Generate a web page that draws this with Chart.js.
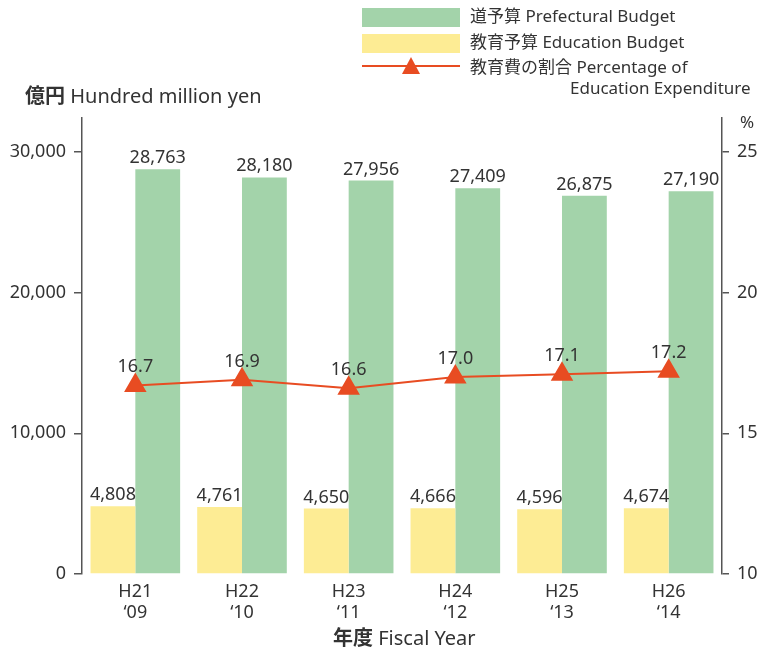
<!DOCTYPE html>
<html><head><meta charset="utf-8">
<script src="https://cdn.jsdelivr.net/npm/chart.js@4"></script>
<style>
html,body{margin:0;padding:0;background:#fff;}
body{width:771px;height:650px;position:relative;overflow:hidden;font-family:'Noto Sans','Noto Sans CJK JP',sans-serif;color:#333;}
#wrap{position:absolute;left:0;top:0;width:771px;height:650px;}
.t{position:absolute;white-space:nowrap;font-size:17px;color:#333;line-height:1;}
.lg{position:absolute;}
b{font-family:'Noto Sans CJK JP',sans-serif;font-weight:bold;}
</style></head>
<body>
<div id="wrap"><canvas id="c" width="771" height="650"></canvas></div>
<div class="lg" style="left:362px;top:8px;width:98px;height:19px;background:#a3d3aa"></div>
<div class="t" style="left:470px;top:7px;font-size:17px">道予算 Prefectural Budget</div>
<div class="lg" style="left:362px;top:34px;width:98px;height:19px;background:#fdec94"></div>
<div class="t" style="left:470px;top:33px;font-size:17px">教育予算 Education Budget</div>
<div class="lg" style="left:362px;top:65px;width:98px;height:2px;background:#e84c22"></div>
<div class="lg" style="left:402px;top:57px;width:0;height:0;border-left:9px solid transparent;border-right:9px solid transparent;border-bottom:17px solid #e84c22"></div>
<div class="t" style="left:470px;top:58px;font-size:17px">教育費の割合 Percentage of</div>
<div class="t" style="left:570px;top:79px;font-size:17px">Education Expenditure</div>
<div class="t" style="left:25px;top:85px;font-size:20px"><b>億円</b> Hundred million yen</div>
<div class="t" style="left:740px;top:113px;font-size:17px">%</div>
<div class="t" style="left:333px;top:627px;font-size:20px"><b>年度</b> Fiscal Year</div>
<script>
const categories = [['H21','‘09'],['H22','‘10'],['H23','‘11'],['H24','‘12'],['H25','‘13'],['H26','‘14']];
const educationBudget = [4808, 4761, 4650, 4666, 4596, 4674];
const prefecturalBudget = [28763, 28180, 27956, 27409, 26875, 27190];
const educationShare = [16.7, 16.9, 16.6, 17.0, 17.1, 17.2];
const leftTicks = [0, 10000, 20000, 30000];
const rightTicks = [10, 15, 20, 25];

const FONT = "'Noto Sans','Noto Sans CJK JP',sans-serif";
const fmt = v => v.toLocaleString('en-US');

const labelPlugin = {
  id:'labels',
  afterDatasetsDraw(chart){
    const ctx = chart.ctx;
    ctx.save();
    ctx.fillStyle = '#333';
    ctx.font = '18px ' + FONT;
    ctx.textAlign = 'center';
    ctx.textBaseline = 'alphabetic';
    chart.data.datasets.forEach((ds, i) => {
      const meta = chart.getDatasetMeta(i);
      meta.data.forEach((el, j) => {
        const v = ds.data[j];
        if (ds.type === 'line') {
          ctx.fillText(v.toFixed(1), el.x, el.y - 13);
        } else {
          ctx.fillText(fmt(v), el.x, el.y - 6);
        }
      });
    });
    ctx.restore();
  }
};

new Chart(document.getElementById('c'), {
  data: {
    labels: categories,
    datasets: [
      { type:'bar', label:'教育予算 Education Budget', data: educationBudget, backgroundColor:'#fdec94', yAxisID:'y', order:2, barPercentage:1, categoryPercentage:0.84 },
      { type:'bar', label:'道予算 Prefectural Budget', data: prefecturalBudget, backgroundColor:'#a3d3aa', yAxisID:'y', order:2, barPercentage:1, categoryPercentage:0.84 },
      { type:'line', label:'教育費の割合 Percentage of Education Expenditure', data: educationShare, borderColor:'#e84c22', backgroundColor:'#e84c22', borderWidth:2, pointStyle:'triangle', pointRadius:11, pointHoverRadius:11, yAxisID:'y1', order:1 }
    ]
  },
  options: {
    responsive:false, animation:false,
    layout:{ padding:{ top:118, left:0, right:0, bottom:0 } },
    plugins:{ legend:{display:false}, tooltip:{enabled:false} },
    scales:{
      x:{
        grid:{ display:false, drawTicks:false },
        border:{ display:false },
        ticks:{ color:'#333', font:{ size:18, family:FONT, lineHeight:1.15 }, padding:8 },
        afterFit(s){ s.height = 76; }
      },
      y:{
        position:'left', min:0, max:32400,
        afterBuildTicks(s){ s.ticks = leftTicks.map(v=>({value:v})); },
        grid:{ drawOnChartArea:false, color:'#555', tickLength:8, lineWidth:1.5 },
        border:{ color:'#555', width:1.5 },
        ticks:{ color:'#333', font:{ size:18, family:FONT }, padding:8, callback:v=>fmt(v) },
        afterFit(s){ s.width = 82; }
      },
      y1:{
        position:'right', min:10, max:26.2,
        afterBuildTicks(s){ s.ticks = rightTicks.map(v=>({value:v})); },
        grid:{ drawOnChartArea:false, color:'#555', tickLength:7, lineWidth:1.5 },
        border:{ color:'#555', width:1.5 },
        ticks:{ color:'#333', font:{ size:18, family:FONT }, padding:8 },
        afterFit(s){ s.width = 49; }
      }
    }
  },
  plugins:[labelPlugin]
});
</script>
</body></html>
